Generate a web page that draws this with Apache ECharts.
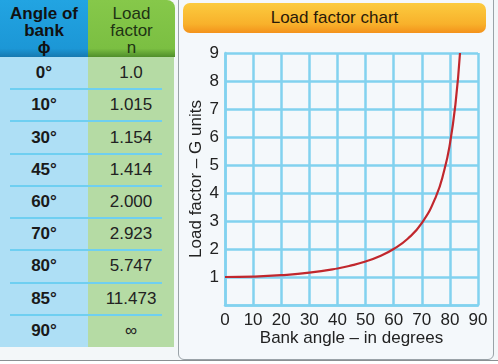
<!DOCTYPE html>
<html><head><meta charset="utf-8">
<script src="https://cdn.jsdelivr.net/npm/echarts@6/dist/echarts.min.js"></script>
<style>
html,body{margin:0;padding:0;width:498px;height:364px;overflow:hidden;background:#f3f7f9;font-family:"Liberation Sans",Arial,sans-serif;}
#wrap{position:relative;width:498px;height:364px;}
.abs{position:absolute;}
#panel{left:178px;top:-10px;width:314px;height:368px;border:1px solid #9aa3a8;border-radius:6px;background:#f4f8fb;}
#bottom{left:0;top:360px;width:498px;height:4px;background:#fff;border-top:1px solid #8a8f92;}
#title{left:183px;top:3px;width:303px;height:30px;border-radius:7px;background:linear-gradient(#fccb3f,#f8b12b 70%,#f3921b);color:#2a1a08;font-size:17px;line-height:30px;text-align:center;}
#hblue{left:0;top:0;width:88px;height:57px;background:linear-gradient(#22a4e2,#1c97d6 85%,#1679b0);}
#hgreen{left:88px;top:0;width:87px;height:57px;border-top-right-radius:8px;background:linear-gradient(#86c84a,#7bbf42 85%,#4f8e2a);}
#bblue{left:0;top:57px;width:88px;height:290px;background:#aedff5;}
#bgreen{left:88px;top:57px;width:86px;height:290px;background:#b5dba4;}
.hl{width:88px;text-align:center;font-size:17px;line-height:17px;}
.cell{font-size:17px;text-align:center;line-height:20px;}
.sep{left:10px;width:152px;height:2px;background:#6fcff1;}
#chart{left:0;top:0;width:498px;height:364px;}
</style></head>
<body><div id="wrap">
<div class="abs" id="panel"></div>
<div class="abs" id="bottom"></div>
<div class="abs" id="title">Load factor chart</div>
<div class="abs" id="hblue"></div><div class="abs" id="hgreen"></div>
<div class="abs" id="bblue"></div><div class="abs" id="bgreen"></div>
<div id="table"></div>
<div class="abs" id="chart"></div>
</div>
<script>
// Table data
const headerAngle = ["Angle of", "bank", "ϕ"];
const headerLoad = ["Load", "factor", "n"];
const tableAngles = ["0°", "10°", "30°", "45°", "60°", "70°", "80°", "85°", "90°"];
const tableLoads = ["1.0", "1.015", "1.154", "1.414", "2.000", "2.923", "5.747", "11.473", "∞"];

// Chart data
const bankAngle = [0, 10, 20, 30, 40, 45, 50, 55, 60, 65, 70, 75, 78, 80, 82, 83.6];
const loadFactor = [1.0, 1.015, 1.064, 1.154, 1.305, 1.414, 1.556, 1.743, 2.0, 2.366, 2.923, 3.864, 4.81, 5.747, 7.19, 9.0];
const xTicks = [0, 10, 20, 30, 40, 50, 60, 70, 80, 90];
const yTicks = [0, 1, 2, 3, 4, 5, 6, 7, 8, 9];

// Build table
const t = document.getElementById('table');
let html = '';
headerAngle.forEach((s, i) => {
  html += `<div class="abs hl" style="left:0;top:${5 + i*17}px;font-weight:bold;color:#111;">${s}</div>`;
});
headerLoad.forEach((s, i) => {
  html += `<div class="abs hl" style="left:88px;width:87px;top:${5 + i*17}px;color:#1e3314;">${s}</div>`;
});
const rowH = 290 / 9;
tableAngles.forEach((a, i) => {
  const cy = 57 + rowH * (i + 0.5);
  html += `<div class="abs cell" style="left:0;width:88px;top:${cy-10}px;font-weight:bold;color:#1a1a1a;">${a}</div>`;
  html += `<div class="abs cell" style="left:88px;width:86px;top:${cy-10}px;color:#222;">${tableLoads[i]}</div>`;
  if (i > 0) html += `<div class="abs sep" style="top:${57 + rowH*i - 1}px;"></div>`;
});
t.innerHTML = html;

const chart = echarts.init(document.getElementById('chart'), null, {renderer: 'canvas'});
const gridColor = '#82d2ef';
chart.setOption({
  backgroundColor: 'transparent',
  animation: false,
  grid: {left: 225, top: 53, width: 253, height: 252, containLabel: false},
  xAxis: {
    type: 'value', min: 0, max: 90, interval: 10,
    name: 'Bank angle – in degrees', nameLocation: 'middle', nameGap: 25, nameMoveOverlap: false,
    nameTextStyle: {fontSize: 17, color: '#222', fontFamily: 'Liberation Sans'},
    axisLine: {show: true, lineStyle: {color: gridColor, width: 2.5}},
    axisTick: {show: false},
    axisLabel: {fontSize: 17, color: '#222', margin: 7, fontFamily: 'Liberation Sans',
      formatter: v => xTicks.includes(v) ? String(v) : ''},
    splitLine: {show: true, lineStyle: {color: gridColor, width: 2.5}}
  },
  yAxis: {
    type: 'value', min: 0, max: 9, interval: 1,
    name: 'Load factor – G units', nameLocation: 'middle', nameGap: 20, nameMoveOverlap: false,
    nameTextStyle: {fontSize: 17, color: '#222', fontFamily: 'Liberation Sans'},
    axisLine: {show: true, lineStyle: {color: gridColor, width: 2.5}},
    axisTick: {show: false},
    axisLabel: {fontSize: 17, color: '#222', margin: 6, fontFamily: 'Liberation Sans',
      formatter: v => (v === 0 ? '' : (yTicks.includes(v) ? String(v) : ''))},
    splitLine: {show: true, lineStyle: {color: gridColor, width: 2.5}}
  },
  series: [{
    type: 'line', smooth: true, symbol: 'none',
    data: bankAngle.map((x, i) => [x, loadFactor[i]]),
    lineStyle: {color: '#c1272d', width: 2.2}
  }]
});
</script>
</body></html>
